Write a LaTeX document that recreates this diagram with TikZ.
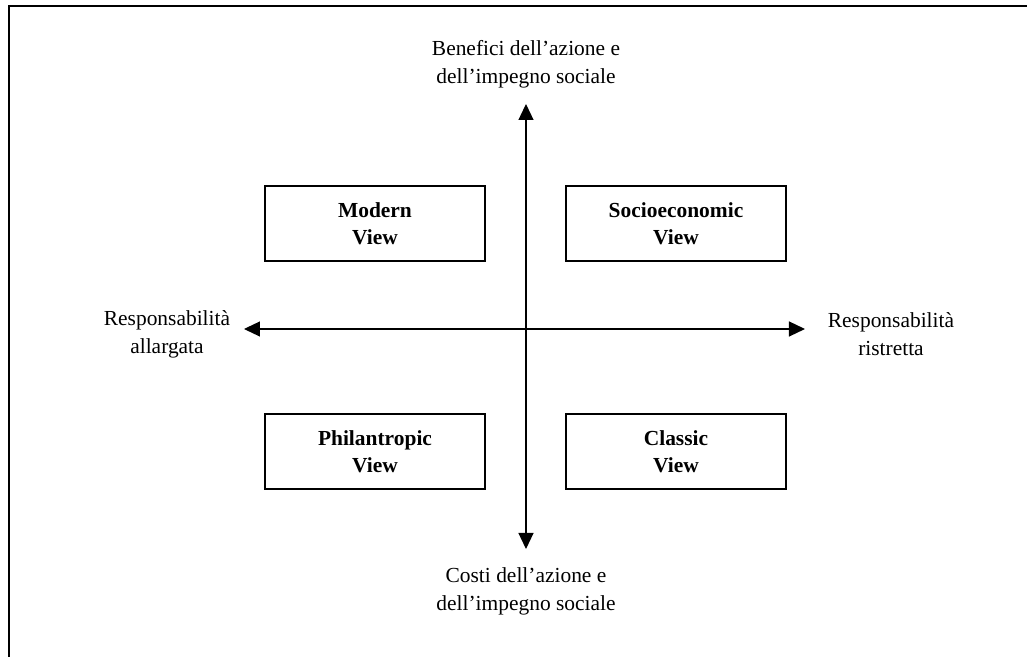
\documentclass[tikz,border=0pt]{standalone}
\usepackage{fontspec}
\setmainfont{Liberation Serif}
\usetikzlibrary{arrows.meta}

\begin{document}
\begin{tikzpicture}[
  view/.style={rectangle, draw, line width=0.8pt, minimum width=4.4cm, minimum height=1.5cm, align=center, font=\fontsize{12.2}{15.4}\selectfont\bfseries},
  axislabel/.style={align=center, font=\fontsize{12.2}{15.9}\selectfont},
  axis/.style={line width=0.7pt, {Triangle[length=0.32cm,width=0.3cm]}-{Triangle[length=0.32cm,width=0.3cm]}}
]
  \useasboundingbox (-10.52,-6.56) rectangle (10.02,6.58);
  % Frame
  \draw[line width=1.2pt] (10.2,6.46) -- (-10.34,6.46) -- (-10.34,-6.7);

  % Nodes
  \node[view] (modern) at (-3.02,2.11) {Modern\\View};
  \node[view] (socio) at (3.0,2.11) {Socioeconomic\\View};
  \node[view] (phil) at (-3.02,-2.45) {Philantropic\\View};
  \node[view] (classic) at (3.0,-2.45) {Classic\\View};

  \node[axislabel] (benefici) at (0,5.3) {Benefici dell’azione e\\dell’impegno sociale};
  \node[axislabel] (costi) at (0,-5.24) {Costi dell’azione e\\dell’impegno sociale};
  \node[axislabel] (allargata) at (-7.18,-0.1) {Responsabilità\\allargata};
  \node[axislabel] (ristretta) at (7.3,-0.1) {Responsabilità\\ristretta};

  \coordinate (north) at (0,4.5);
  \coordinate (south) at (0,-4.4);
  \coordinate (west) at (-5.64,0);
  \coordinate (east) at (5.58,0);

  % Edges
  \draw[axis] (south) -- (north);
  \draw[axis] (west) -- (east);
\end{tikzpicture}
\end{document}
